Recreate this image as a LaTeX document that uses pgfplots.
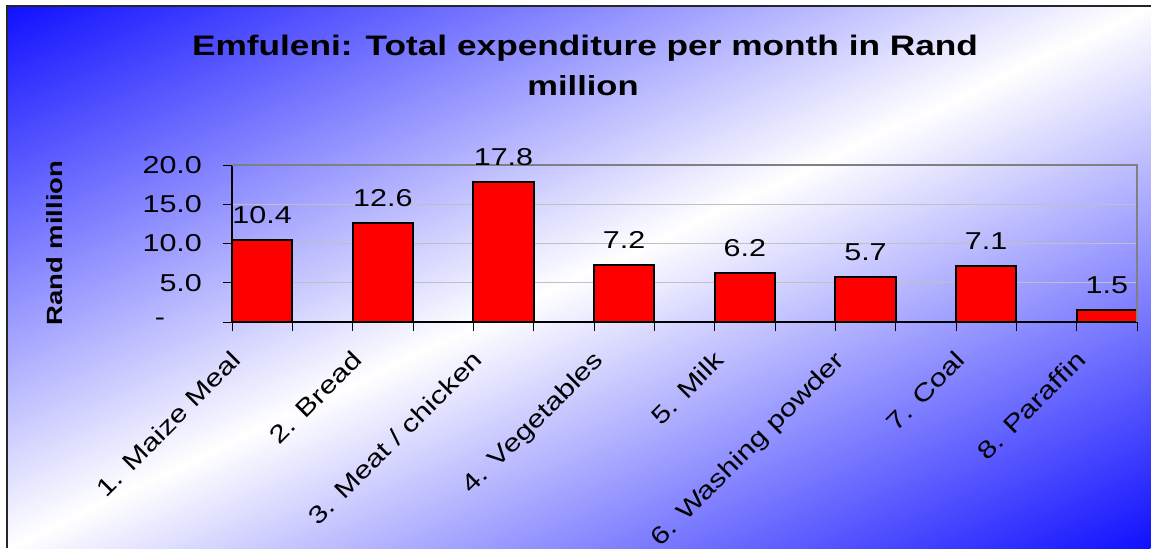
\documentclass[border=0pt]{standalone}
\usepackage{fontspec}
\setmainfont[FakeStretch=1.25]{Liberation Sans}
\usepackage{pgfplots}
\pgfplotsset{compat=1.18}
\definecolor{bgblue}{RGB}{16,16,255}
\definecolor{gridgray}{RGB}{192,192,192}
\definecolor{framegray}{RGB}{128,128,128}
\begin{document}
\begin{tikzpicture}
\useasboundingbox (0,0) rectangle (575.5pt,274pt);
\begin{scope}
\clip (3.5pt,0pt) rectangle (575.5pt,271pt);
\begin{scope}[transform canvas={shift={(289.5pt,135.5pt)}, rotate=115.35}]
\shade[left color=bgblue, right color=bgblue, middle color=white] (-245pt,-400pt) rectangle (245pt,400pt);
\end{scope}
\end{scope}
\draw[line width=0.8pt, black!85] (3.5pt,0pt) -- (3.5pt,271pt) -- (575.5pt,271pt);
\node[font=\fontsize{14.1}{16}\selectfont\bfseries, anchor=base, inner sep=0pt] at (292.5pt,246.5pt) {Emfuleni: Total expenditure per month in Rand};
\node[font=\fontsize{13.8}{16}\selectfont\bfseries, anchor=base, inner sep=0pt] at (291.5pt,226.5pt) {million};
\node[font=\fontsize{11}{13}\selectfont\bfseries, rotate=90, inner sep=0pt] at (27.5pt,152.5pt) {Rand million};
\begin{axis}[
 at={(116pt,113pt)}, anchor=south west,
 scale only axis, width=452.5pt, height=78.5pt,
 xmin=0.75, xmax=8.25, ymin=0, ymax=20,
 axis x line*=bottom, axis y line*=left,
 axis line style={black, line width=0.75pt},
 ytick={0,5,10,15,20},
 yticklabels={-\hspace*{18.5pt}, 5.0, 10.0, 15.0, 20.0},
 ymajorgrids, grid style={gridgray, line width=0.5pt},
 xtick={0.75,1.25,...,8.25}, xticklabels={},
 extra x ticks={1,2,...,8},
 extra x tick labels={1. Maize Meal, 2. Bread, 3. Meat / chicken, 4. Vegetables, 5. Milk, 6. Washing powder, 7. Coal, 8. Paraffin},
 extra x tick style={major tick length=0pt, grid=none},
 tick align=outside, major tick length=4.5pt,
 tick style={black, line width=0.5pt},
 ticklabel style={font=\fontsize{12.2}{14}\selectfont},
 xticklabel style={xshift=-16pt, yshift=-13.4pt, rotate=45, anchor=north east, inner sep=0pt},
 yticklabel style={xshift=-7pt},
 ybar, bar width=30.17pt,
 nodes near coords={\pgfmathprintnumber[fixed,fixed zerofill,precision=1]{\pgfplotspointmeta}},
 every node near coord/.append style={font=\fontsize{12.2}{14}\selectfont, anchor=base, yshift=8.5pt, black},
 /pgf/number format/assume math mode=true,
 clip=false,
]
\addplot[fill=red, draw=black, line width=1pt] coordinates {(1,10.4) (2,12.6) (3,17.8) (4,7.2) (5,6.2) (6,5.7) (7,7.1) (8,1.5)};
\draw[framegray, line width=0.9pt] (rel axis cs:0,1) -- (rel axis cs:1,1) -- (rel axis cs:1,0);
\end{axis}
\end{tikzpicture}
\end{document}
